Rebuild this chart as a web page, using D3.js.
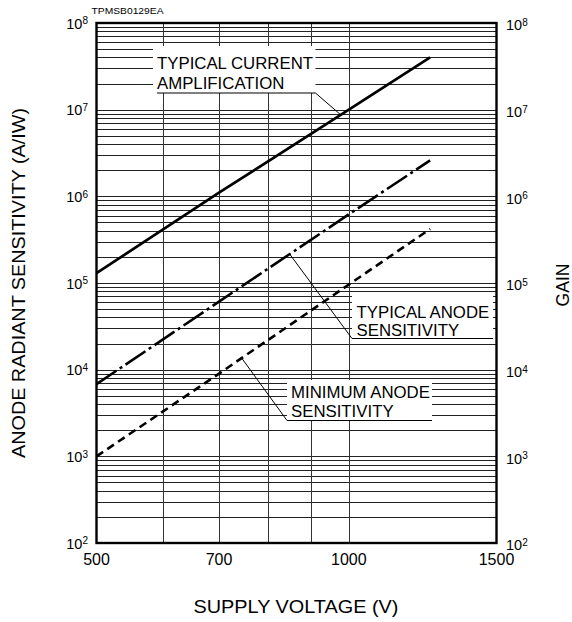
<!DOCTYPE html>
<html>
<head>
<meta charset="utf-8">
<script src="https://cdn.jsdelivr.net/npm/d3@7"></script>
<style>
  html, body { margin: 0; padding: 0; background: #fff; }
  svg { display: block; font-family: "Liberation Sans", Arial, Helvetica, sans-serif; }
</style>
</head>
<body>
<svg id="chart" width="572" height="622"></svg>
<script>
// ---- data ----
const voltage = [500, 700, 1000, 1250];
const currentAmplification = [1.3e5, 1.1e6, 1.0e7, 4.0e7];
const anodeTypical = [6.8e3, 6.1e4, 6.2e5, 2.6e6];
const anodeMinimum = [1.0e3, 9.0e3, 9.6e4, 4.2e5];
const xTickValues = [500, 700, 1000, 1500];
const xGridValues = [600, 700, 800, 900, 1000];
const yExponents = [2, 3, 4, 5, 6, 7, 8];
const labelCurrent = ["TYPICAL CURRENT", "AMPLIFICATION"];
const labelTypical = ["TYPICAL ANODE", "SENSITIVITY"];
const labelMinimum = ["MINIMUM ANODE", "SENSITIVITY"];

const svg = d3.select("#chart");
const L = 96.5, R = 496.5, T = 23, B = 543;
const x = d3.scaleLog().domain([500, 1500]).range([L, R]);
const y = d3.scaleLog().domain([1e2, 1e8]).range([B, T]);

// minor/major horizontal grid values
const yGrid = [];
yExponents.forEach(e => {
  if (e === 8) { yGrid.push(1e8); return; }
  for (let m = 1; m <= 9; m++) yGrid.push(m * Math.pow(10, e));
});

const grid = svg.append("g").attr("stroke", "#222").attr("stroke-width", 1);
grid.selectAll("line.h").data(yGrid).join("line")
  .attr("x1", L).attr("x2", R)
  .attr("y1", d => Math.round(y(d)) + 0.5).attr("y2", d => Math.round(y(d)) + 0.5);
grid.selectAll("line.v").data(xGridValues).join("line")
  .attr("stroke", "#333")
  .attr("y1", T).attr("y2", B)
  .attr("x1", d => Math.round(x(d)) + 0.5).attr("x2", d => Math.round(x(d)) + 0.5);

// interpolation in log-log space along a series
function valueAt(series, v) {
  for (let i = 0; i < voltage.length - 1; i++) {
    if (v >= voltage[i] && v <= voltage[i + 1]) {
      const t = Math.log(v / voltage[i]) / Math.log(voltage[i + 1] / voltage[i]);
      return Math.exp(Math.log(series[i]) + t * Math.log(series[i + 1] / series[i]));
    }
  }
  return series[series.length - 1];
}

// annotation boxes (white) + text + underline + leader
const annotations = [
  { lines: labelCurrent, series: currentAmplification, tipV: 978, fromRight: true,
    box: [153, 46, 315.5, 93], tx: 157, ty: [68.5, 88.5] },
  { lines: labelTypical, series: anodeTypical, tipV: 850, fromRight: false,
    box: [352, 296, 493, 338.5], tx: 356.5, ty: [317.5, 336] },
  { lines: labelMinimum, series: anodeMinimum, tipV: 745, fromRight: false,
    box: [287, 380, 432, 420.5], tx: 291, ty: [397.5, 416.5] }
];
const ann = svg.append("g");
annotations.forEach(a => {
  const [x0, y0, x1, y1] = a.box;
  ann.append("rect").attr("x", x0).attr("y", y0).attr("width", x1 - x0).attr("height", y1 - y0)
    .attr("fill", "#fff");
});

// curves
const line = d3.line().x(d => x(d[0])).y(d => y(d[1]));
const curves = svg.append("g").attr("fill", "none").attr("stroke", "#000");
curves.append("path").datum(voltage.map((v, i) => [v, currentAmplification[i]]))
  .attr("d", line).attr("stroke-width", 2.7);
curves.append("path").datum(voltage.map((v, i) => [v, anodeTypical[i]]))
  .attr("d", line).attr("stroke-width", 2.6).attr("stroke-dasharray", "24,4,3,4");
curves.append("path").datum(voltage.map((v, i) => [v, anodeMinimum[i]]))
  .attr("d", line).attr("stroke-width", 2.6).attr("stroke-dasharray", "8,5");

annotations.forEach(a => {
  const [x0, y0, x1, y1] = a.box;
  a.lines.forEach((t, i) => {
    ann.append("text").attr("x", a.tx).attr("y", a.ty[i])
      .attr("font-size", 16.8).attr("fill", "#000").text(t);
  });
  const tipX = x(a.tipV), tipY = y(valueAt(a.series, a.tipV));
  const d = a.fromRight
    ? `M${x0 + 4},${y1}H${x1}L${tipX},${tipY}`
    : `M${x1},${y1}H${x0}L${tipX},${tipY}`;
  ann.append("path").attr("d", d)
    .attr("fill", "none").attr("stroke", "#000").attr("stroke-width", 1);
});

// frame
svg.append("rect").attr("x", L).attr("y", T).attr("width", R - L).attr("height", B - T)
  .attr("fill", "none").attr("stroke", "#000").attr("stroke-width", 2.4);

// y tick labels, left and right
const majors = yExponents.map(e => Math.pow(10, e));
function powLabel(sel, xPos, anchor, dyBase) {
  sel.selectAll(null).data(majors).join("text")
    .attr("x", xPos).attr("y", d => y(d) + dyBase)
    .attr("text-anchor", anchor).attr("font-size", 14.5).attr("fill", "#000")
    .each(function (d) {
      const t = d3.select(this);
      t.append("tspan").text("10");
      t.append("tspan").attr("font-size", 10).attr("dy", -4.2).text(Math.round(Math.log10(d)));
    });
}
powLabel(svg.append("g"), 88, "end", 5.5);
powLabel(svg.append("g"), 506, "start", 7.2);

// x tick labels
svg.append("g").selectAll("text").data(xTickValues).join("text")
  .attr("x", d => x(d)).attr("y", 565)
  .attr("text-anchor", "middle").attr("font-size", 16).attr("fill", "#000")
  .text(d => d);

// axis titles
svg.append("text").attr("x", 296).attr("y", 613).attr("text-anchor", "middle")
  .attr("font-size", 18).attr("textLength", 205).attr("lengthAdjust", "spacingAndGlyphs")
  .text("SUPPLY VOLTAGE (V)");
svg.append("text").attr("transform", "translate(25,283) rotate(-90)")
  .attr("text-anchor", "middle").attr("font-size", 18)
  .attr("textLength", 350).attr("lengthAdjust", "spacingAndGlyphs")
  .text("ANODE RADIANT SENSITIVITY (A/IW)");
svg.append("text").attr("transform", "translate(569,285) rotate(-90)")
  .attr("text-anchor", "middle").attr("font-size", 17.5)
  .text("GAIN");

// drawing code
svg.append("text").attr("x", 91.5).attr("y", 14).attr("font-size", 8.5)
  .attr("textLength", 72).attr("lengthAdjust", "spacingAndGlyphs")
  .text("TPMSB0129EA");
</script>
</body>
</html>
